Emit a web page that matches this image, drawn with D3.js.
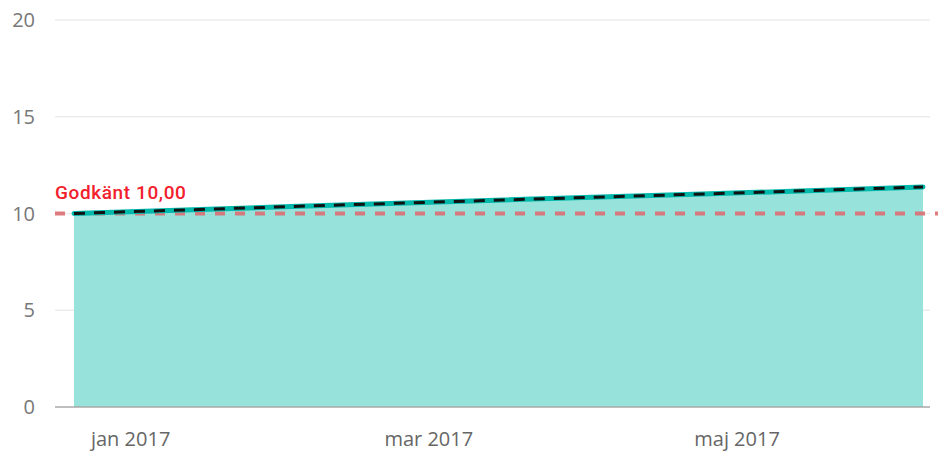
<!DOCTYPE html>
<html>
<head>
<meta charset="utf-8">
<script src="https://cdn.jsdelivr.net/npm/d3@7"></script>
<style>
  body { margin: 0; background: #fff; }
</style>
</head>
<body>
<script>
// values
var dates = ["2016-12-20", "2017-02-01", "2017-03-15", "2017-04-25", "2017-06-06"];
var values = [10.0, 10.36, 10.70, 11.02, 11.37];
var goal = 10;
var goalLabel = "Godkänt 10,00";
var yTicks = [0, 5, 10, 15, 20];
var xTicks = ["2017-01-01", "2017-03-01", "2017-05-01"];
var monthNames = ["jan", "feb", "mar", "apr", "maj", "jun", "jul", "aug", "sep", "okt", "nov", "dec"];

var parse = d3.timeParse("%Y-%m-%d");
var data = dates.map(function (d, i) { return { date: parse(d), value: values[i] }; });

var width = 938, height = 453;
var font = "'Open Sans', 'Noto Sans', sans-serif";
var svg = d3.select("body").append("svg")
    .attr("width", width)
    .attr("height", height);

var x = d3.scaleTime()
    .domain(d3.extent(data, function (d) { return d.date; }))
    .range([74, 923]);

var y = d3.scaleLinear()
    .domain([0, 20])
    .range([407, 20]);

// gridlines
svg.selectAll(".grid")
    .data(yTicks.filter(function (t) { return t > 0; }))
    .enter().append("line")
    .attr("x1", 55).attr("x2", 930)
    .attr("y1", function (d) { return y(d); })
    .attr("y2", function (d) { return y(d); })
    .attr("stroke", "#ececec")
    .attr("stroke-width", 1.5);

// y labels
svg.selectAll(".ylab")
    .data(yTicks)
    .enter().append("text")
    .attr("x", 35)
    .attr("y", function (d) { return y(d) + 7; })
    .attr("text-anchor", "end")
    .attr("fill", "#777")
    .attr("font-family", font)
    .attr("font-size", 20)
    .text(function (d) { return d; });

// area
var area = d3.area()
    .x(function (d) { return x(d.date); })
    .y0(y(0))
    .y1(function (d) { return y(d.value); });

svg.append("path")
    .datum(data)
    .attr("d", area)
    .attr("fill", "#97e3dc");

// baseline
svg.append("line")
    .attr("x1", 55).attr("x2", 930)
    .attr("y1", y(0)).attr("y2", y(0))
    .attr("stroke", "#a8a8a8")
    .attr("stroke-width", 1.5);

// goal line
svg.append("line")
    .attr("x1", 55).attr("x2", 938)
    .attr("y1", y(goal)).attr("y2", y(goal))
    .attr("stroke", "#dc6e72")
    .attr("stroke-width", 4)
    .attr("stroke-dasharray", "10,10")
    .attr("opacity", 0.9);

svg.append("text")
    .attr("x", 55)
    .attr("y", y(goal) - 15)
    .attr("fill", "#f2202c")
    .attr("font-family", "Roboto, sans-serif")
    .attr("font-weight", 500)
    .attr("font-size", 19)
    .attr("letter-spacing", 0.6)
    .text(goalLabel);

// line
var line = d3.line()
    .x(function (d) { return x(d.date); })
    .y(function (d) { return y(d.value); });

svg.append("path")
    .datum(data)
    .attr("d", line)
    .attr("fill", "none")
    .attr("stroke", "#01b8aa")
    .attr("stroke-width", 5)
    .attr("stroke-linecap", "round");

svg.append("path")
    .datum(data)
    .attr("d", line)
    .attr("fill", "none")
    .attr("stroke", "#111")
    .attr("stroke-width", 3)
    .attr("stroke-dasharray", "11,9");

// x labels
svg.selectAll(".xlab")
    .data(xTicks.map(parse))
    .enter().append("text")
    .attr("x", function (d) { return x(d) - 4; })
    .attr("y", 446)
    .attr("text-anchor", "middle")
    .attr("fill", "#666")
    .attr("font-family", font)
    .attr("font-size", 20)
    .text(function (d) { return monthNames[d.getMonth()] + " " + d.getFullYear(); });
</script>
</body>
</html>
